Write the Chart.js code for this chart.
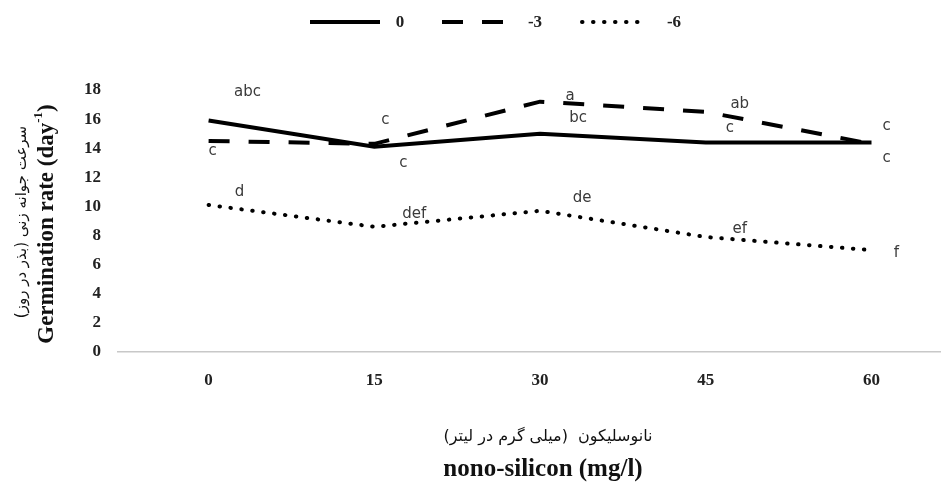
<!DOCTYPE html>
<html>
<head>
<meta charset="utf-8">
<script src="https://cdn.jsdelivr.net/npm/chart.js@4.4.0/dist/chart.umd.min.js"></script>
<style>
  html, body { margin: 0; padding: 0; background: #fff; }
  #wrap { width: 942px; height: 490px; }
</style>
</head>
<body>
<div id="wrap"><canvas id="chart" width="942" height="490"></canvas></div>
<script>
// values
const nanoSilicon = [0, 15, 30, 45, 60];
const seriesNames = ['0', '-3', '-6'];
const rate0 = [15.9, 14.1, 15.0, 14.4, 14.4];
const rateMinus3 = [14.5, 14.3, 17.2, 16.5, 14.3];
const rateMinus6 = [10.1, 8.6, 9.7, 7.9, 7.0];
const letters0 = ['abc', 'c', 'bc', 'c', 'c'];
const lettersMinus3 = ['c', 'c', 'a', 'ab', 'c'];
const lettersMinus6 = ['d', 'def', 'de', 'ef', 'f'];
const yTicks = [0, 2, 4, 6, 8, 10, 12, 14, 16, 18];

const yTitleFa = 'سرعت جوانه زنی (بذر در روز)';
const yTitleEn = 'Germination rate (day';
const xTitleFa = 'نانوسلیکون  (میلی گرم در لیتر)';
const xTitleEn = 'nono-silicon (mg/l)';

// where each letter sits relative to its point (px)
const letterOffsets = [
  [[39, -28], [29, 16], [38, -16], [24, -14], [15, 16]],
  [[4, 10], [11, -24], [30, -6], [34, -8], [15, -18]],
  [[31, -13], [40, -13], [42, -13], [34, -8], [25, 3]]
];

// legend slots: [lineStart, lineEnd, textX]
const legendSlots = [[310, 380, 400], [442, 505, 535], [582, 642, 674]];
const LEGEND_Y = 22;

const SERIF = '"Liberation Serif", "Times New Roman", serif';

function toPoints(vals) {
  return vals.map(function (v, i) { return { x: nanoSilicon[i], y: v }; });
}

const lettersPlugin = {
  id: 'lettersPlugin',
  afterDatasetsDraw: function (chart) {
    const ctx = chart.ctx;
    const sets = [letters0, lettersMinus3, lettersMinus6];
    ctx.save();
    ctx.font = '15px "DejaVu Sans", sans-serif';
    ctx.fillStyle = '#3a3a3a';
    ctx.textAlign = 'center';
    ctx.textBaseline = 'middle';
    for (let d = 0; d < sets.length; d++) {
      const meta = chart.getDatasetMeta(d);
      for (let i = 0; i < meta.data.length; i++) {
        const p = meta.data[i];
        const off = letterOffsets[d][i];
        ctx.fillText(sets[d][i], p.x + off[0], p.y + off[1]);
      }
    }
    ctx.restore();
  }
};

// legend drawn by hand so the gap under it can match the picture
const legendPlugin = {
  id: 'lineLegend',
  afterDraw: function (chart) {
    const ctx = chart.ctx;
    const ds = chart.data.datasets;
    ctx.save();
    for (let i = 0; i < ds.length; i++) {
      const s = legendSlots[i];
      ctx.strokeStyle = ds[i].borderColor;
      ctx.lineWidth = ds[i].borderWidth;
      ctx.lineCap = ds[i].borderCapStyle || 'butt';
      ctx.setLineDash(ds[i].borderDash || []);
      ctx.beginPath();
      ctx.moveTo(s[0], LEGEND_Y);
      ctx.lineTo(s[1], LEGEND_Y);
      ctx.stroke();
      ctx.setLineDash([]);
      ctx.fillStyle = '#222';
      ctx.font = 'bold 17px ' + SERIF;
      ctx.textAlign = 'center';
      ctx.textBaseline = 'middle';
      ctx.fillText(ds[i].label, s[2], LEGEND_Y + 1);
    }
    ctx.restore();
  }
};

const titlesPlugin = {
  id: 'titlesPlugin',
  afterDraw: function (chart) {
    const ctx = chart.ctx;
    ctx.save();
    ctx.fillStyle = '#111';

    // y titles (rotated)
    const cy = 222;
    ctx.save();
    ctx.translate(22, cy);
    ctx.rotate(-Math.PI / 2);
    ctx.textAlign = 'center';
    ctx.textBaseline = 'middle';
    ctx.font = '15px "DejaVu Sans", sans-serif';
    ctx.fillText(yTitleFa, 0, 0);
    ctx.restore();

    ctx.save();
    ctx.translate(47, cy + 2);
    ctx.rotate(-Math.PI / 2);
    ctx.textBaseline = 'middle';
    ctx.font = 'bold 23px ' + SERIF;
    const w1 = ctx.measureText(yTitleEn).width;
    ctx.font = 'bold 13px ' + SERIF;
    const w2 = ctx.measureText('-1').width;
    ctx.font = 'bold 23px ' + SERIF;
    const w3 = ctx.measureText(')').width;
    const x0 = -(w1 + w2 + w3) / 2;
    ctx.textAlign = 'left';
    ctx.fillText(yTitleEn, x0, 0);
    ctx.font = 'bold 13px ' + SERIF;
    ctx.fillText('-1', x0 + w1, -8);
    ctx.font = 'bold 23px ' + SERIF;
    ctx.fillText(')', x0 + w1 + w2, 0);
    ctx.restore();

    // x titles
    ctx.textAlign = 'center';
    ctx.textBaseline = 'middle';
    ctx.font = '16px "DejaVu Sans", sans-serif';
    ctx.fillText(xTitleFa, 548, 437);
    ctx.font = 'bold 25px ' + SERIF;
    ctx.fillText(xTitleEn, 543, 470);
    ctx.restore();
  }
};

const chart = new Chart(document.getElementById('chart'), {
  type: 'line',
  data: {
    datasets: [
      {
        label: seriesNames[0],
        data: toPoints(rate0),
        borderColor: '#000',
        backgroundColor: '#000',
        borderWidth: 4,
        pointRadius: 0,
        tension: 0,
      },
      {
        label: seriesNames[1],
        data: toPoints(rateMinus3),
        borderColor: '#000',
        backgroundColor: '#000',
        borderWidth: 4,
        borderDash: [21, 19],
        pointRadius: 0,
        tension: 0,
      },
      {
        label: seriesNames[2],
        data: toPoints(rateMinus6),
        borderColor: '#000',
        backgroundColor: '#000',
        borderWidth: 4,
        borderDash: [0.5, 10.5],
        borderCapStyle: 'round',
        pointRadius: 0,
        tension: 0,
      },
    ]
  },
  options: {
    responsive: false,
    devicePixelRatio: 1,
    animation: false,
    layout: { padding: { top: 90, right: 2, left: 0, bottom: 0 } },
    plugins: {
      legend: { display: false },
      tooltip: { enabled: false },
    },
    scales: {
      x: {
        type: 'linear',
        min: -8.2,
        max: 66.2,
        grid: { display: false },
        border: { display: true, color: '#c8c8c8', width: 1.5 },
        afterBuildTicks: function (scale) {
          scale.ticks = nanoSilicon.map(function (v) { return { value: v }; });
        },
        afterFit: function (scale) { scale.height = 138; },
        ticks: {
          padding: 10,
          color: '#222',
          font: { family: SERIF, size: 17, weight: 'bold' },
          maxRotation: 0,
          autoSkip: false,
        },
      },
      y: {
        min: 0,
        max: 18,
        grid: { display: false },
        border: { display: false },
        afterBuildTicks: function (scale) {
          scale.ticks = yTicks.map(function (v) { return { value: v }; });
        },
        afterFit: function (scale) { scale.width = 118; },
        ticks: {
          padding: 9,
          color: '#222',
          font: { family: SERIF, size: 17, weight: 'bold' },
        },
      },
    },
  },
  plugins: [lettersPlugin, legendPlugin, titlesPlugin],
});
</script>
</body>
</html>
